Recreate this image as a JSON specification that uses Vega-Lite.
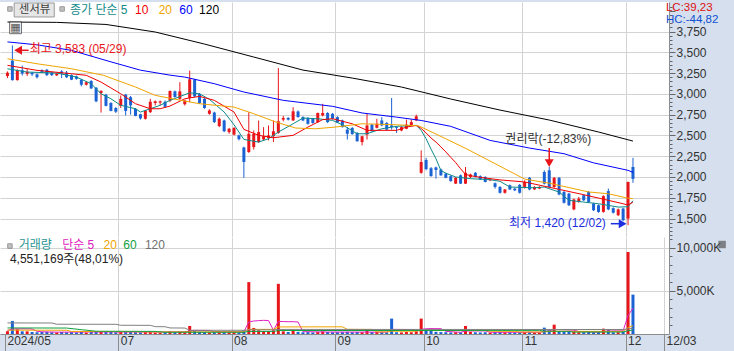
{
"$schema": "https://vega.github.io/schema/vega-lite/v6.json",
"padding": 0,
"background": "#d5dfed",
"spacing": 0,
"bounds": "flush",
"resolve": {"scale": {"color": "independent"}},
"config": {
  "view": {"stroke": null, "fill": "#ffffff"},
  "font": "Liberation Sans, Noto Sans CJK KR, sans-serif",
  "text": {"font": "Liberation Sans, Noto Sans CJK KR, sans-serif", "fontSize": 12},
  "axis": {"labelFont": "Liberation Sans", "labelFontSize": 12, "labelColor": "#333333", "domainColor": "#8c8c8c", "tickColor": "#666666", "gridColor": "#d3d3d3", "labelFlush": false, "labelOverlap": false}
},
"datasets": {
"ohlc": [
{"d":"05-28","i":0,"o":3215,"h":3270,"l":3190,"c":3255,"v":310},
{"d":"05-29","i":1,"o":3400,"h":3583,"l":3160,"c":3165,"v":1510},
{"d":"05-30","i":2,"o":3165,"h":3295,"l":3160,"c":3285,"v":540},
{"d":"05-31","i":3,"o":3285,"h":3340,"l":3220,"c":3245,"v":310},
{"d":"06-03","i":4,"o":3240,"h":3300,"l":3215,"c":3265,"v":310},
{"d":"06-04","i":5,"o":3255,"h":3265,"l":3215,"c":3235,"v":220},
{"d":"06-05","i":6,"o":3235,"h":3245,"l":3185,"c":3200,"v":200},
{"d":"06-07","i":7,"o":3285,"h":3295,"l":3250,"c":3265,"v":230},
{"d":"06-10","i":8,"o":3290,"h":3300,"l":3215,"c":3225,"v":250},
{"d":"06-11","i":9,"o":3255,"h":3265,"l":3215,"c":3225,"v":200},
{"d":"06-12","i":10,"o":3222,"h":3250,"l":3215,"c":3242,"v":180},
{"d":"06-13","i":11,"o":3270,"h":3285,"l":3190,"c":3245,"v":230},
{"d":"06-14","i":12,"o":3255,"h":3275,"l":3190,"c":3200,"v":200},
{"d":"06-17","i":13,"o":3225,"h":3235,"l":3165,"c":3170,"v":210},
{"d":"06-18","i":14,"o":3210,"h":3220,"l":3170,"c":3180,"v":180},
{"d":"06-19","i":15,"o":3170,"h":3180,"l":3090,"c":3110,"v":230},
{"d":"06-20","i":16,"o":3110,"h":3150,"l":3100,"c":3140,"v":170},
{"d":"06-21","i":17,"o":3155,"h":3165,"l":3060,"c":3065,"v":220},
{"d":"06-24","i":18,"o":3075,"h":3080,"l":2900,"c":2910,"v":330},
{"d":"06-25","i":19,"o":3010,"h":3040,"l":2775,"c":3037,"v":300},
{"d":"06-26","i":20,"o":2990,"h":3000,"l":2850,"c":2855,"v":250},
{"d":"06-27","i":21,"o":2890,"h":2900,"l":2790,"c":2795,"v":230},
{"d":"06-28","i":22,"o":2830,"h":2840,"l":2770,"c":2785,"v":200},
{"d":"07-01","i":23,"o":2855,"h":2980,"l":2830,"c":2940,"v":260},
{"d":"07-02","i":24,"o":2990,"h":3000,"l":2740,"c":2795,"v":300},
{"d":"07-03","i":25,"o":2960,"h":2975,"l":2750,"c":2862,"v":250},
{"d":"07-04","i":26,"o":2820,"h":2830,"l":2730,"c":2735,"v":220},
{"d":"07-05","i":27,"o":2755,"h":2760,"l":2690,"c":2705,"v":200},
{"d":"07-08","i":28,"o":2700,"h":2805,"l":2690,"c":2800,"v":230},
{"d":"07-09","i":29,"o":2780,"h":2940,"l":2770,"c":2905,"v":280},
{"d":"07-10","i":30,"o":2890,"h":2920,"l":2860,"c":2910,"v":170},
{"d":"07-11","i":31,"o":2895,"h":2920,"l":2860,"c":2910,"v":160},
{"d":"07-12","i":32,"o":2905,"h":2920,"l":2830,"c":2845,"v":190},
{"d":"07-15","i":33,"o":2920,"h":3040,"l":2900,"c":3035,"v":300},
{"d":"07-16","i":34,"o":3030,"h":3040,"l":2955,"c":2962,"v":220},
{"d":"07-17","i":35,"o":2940,"h":3140,"l":2930,"c":3030,"v":280},
{"d":"07-18","i":36,"o":2875,"h":2930,"l":2860,"c":2920,"v":200},
{"d":"07-19","i":37,"o":2950,"h":3280,"l":2900,"c":3175,"v":930},
{"d":"07-22","i":38,"o":3170,"h":3180,"l":2960,"c":2970,"v":400},
{"d":"07-23","i":39,"o":3000,"h":3010,"l":2880,"c":2890,"v":250},
{"d":"07-24","i":40,"o":2940,"h":2950,"l":2820,"c":2830,"v":230},
{"d":"07-25","i":41,"o":2760,"h":2815,"l":2750,"c":2800,"v":180},
{"d":"07-26","i":42,"o":2775,"h":2785,"l":2650,"c":2660,"v":220},
{"d":"07-29","i":43,"o":2612,"h":2715,"l":2600,"c":2700,"v":200},
{"d":"07-30","i":44,"o":2680,"h":2690,"l":2540,"c":2550,"v":220},
{"d":"07-31","i":45,"o":2540,"h":2590,"l":2520,"c":2580,"v":170},
{"d":"08-01","i":46,"o":2510,"h":2600,"l":2500,"c":2590,"v":200},
{"d":"08-02","i":47,"o":2500,"h":2510,"l":2440,"c":2455,"v":180},
{"d":"08-05","i":48,"o":2355,"h":2365,"l":1990,"c":2180,"v":420},
{"d":"08-06","i":49,"o":2300,"h":2780,"l":2290,"c":2520,"v":6000},
{"d":"08-07","i":50,"o":2360,"h":2560,"l":2330,"c":2520,"v":700},
{"d":"08-08","i":51,"o":2420,"h":2680,"l":2410,"c":2540,"v":430},
{"d":"08-09","i":52,"o":2452,"h":2600,"l":2440,"c":2490,"v":350},
{"d":"08-12","i":53,"o":2470,"h":2620,"l":2440,"c":2500,"v":300},
{"d":"08-13","i":54,"o":2490,"h":2680,"l":2420,"c":2550,"v":430},
{"d":"08-14","i":55,"o":2530,"h":3310,"l":2520,"c":2670,"v":5800},
{"d":"08-16","i":56,"o":2690,"h":2735,"l":2670,"c":2710,"v":310},
{"d":"08-19","i":57,"o":2710,"h":2720,"l":2680,"c":2690,"v":230},
{"d":"08-20","i":58,"o":2680,"h":2840,"l":2675,"c":2790,"v":350},
{"d":"08-21","i":59,"o":2788,"h":2800,"l":2715,"c":2720,"v":250},
{"d":"08-22","i":60,"o":2720,"h":2730,"l":2670,"c":2680,"v":200},
{"d":"08-23","i":61,"o":2710,"h":2720,"l":2630,"c":2640,"v":220},
{"d":"08-26","i":62,"o":2700,"h":2710,"l":2640,"c":2650,"v":180},
{"d":"08-27","i":63,"o":2660,"h":2775,"l":2650,"c":2770,"v":230},
{"d":"08-28","i":64,"o":2740,"h":2880,"l":2730,"c":2770,"v":300},
{"d":"08-29","i":65,"o":2770,"h":2780,"l":2650,"c":2660,"v":230},
{"d":"08-30","i":66,"o":2760,"h":2770,"l":2690,"c":2700,"v":200},
{"d":"09-02","i":67,"o":2720,"h":2730,"l":2650,"c":2655,"v":210},
{"d":"09-03","i":68,"o":2680,"h":2690,"l":2595,"c":2600,"v":220},
{"d":"09-04","i":69,"o":2570,"h":2600,"l":2450,"c":2520,"v":250},
{"d":"09-05","i":70,"o":2590,"h":2600,"l":2510,"c":2515,"v":200},
{"d":"09-06","i":71,"o":2530,"h":2540,"l":2425,"c":2430,"v":230},
{"d":"09-09","i":72,"o":2420,"h":2495,"l":2380,"c":2490,"v":210},
{"d":"09-10","i":73,"o":2510,"h":2760,"l":2450,"c":2620,"v":400},
{"d":"09-11","i":74,"o":2630,"h":2640,"l":2545,"c":2550,"v":220},
{"d":"09-12","i":75,"o":2592,"h":2700,"l":2585,"c":2640,"v":230},
{"d":"09-13","i":76,"o":2680,"h":2720,"l":2610,"c":2620,"v":210},
{"d":"09-19","i":77,"o":2650,"h":2660,"l":2560,"c":2570,"v":200},
{"d":"09-20","i":78,"o":2620,"h":2950,"l":2570,"c":2600,"v":1780},
{"d":"09-23","i":79,"o":2600,"h":2610,"l":2530,"c":2590,"v":200},
{"d":"09-24","i":80,"o":2560,"h":2610,"l":2550,"c":2600,"v":180},
{"d":"09-25","i":81,"o":2580,"h":2690,"l":2575,"c":2630,"v":230},
{"d":"09-26","i":82,"o":2620,"h":2690,"l":2615,"c":2660,"v":200},
{"d":"09-27","i":83,"o":2680,"h":2750,"l":2675,"c":2730,"v":300},
{"d":"09-30","i":84,"o":2050,"h":2320,"l":2040,"c":2180,"v":1780},
{"d":"10-02","i":85,"o":2205,"h":2230,"l":2080,"c":2095,"v":500},
{"d":"10-04","i":86,"o":2105,"h":2120,"l":2005,"c":2010,"v":350},
{"d":"10-07","i":87,"o":2115,"h":2125,"l":1980,"c":2085,"v":250},
{"d":"10-08","i":88,"o":2090,"h":2100,"l":2015,"c":2020,"v":220},
{"d":"10-10","i":89,"o":2040,"h":2050,"l":1985,"c":1990,"v":200},
{"d":"10-11","i":90,"o":2010,"h":2020,"l":1945,"c":1950,"v":180},
{"d":"10-14","i":91,"o":1920,"h":2000,"l":1915,"c":1990,"v":200},
{"d":"10-15","i":92,"o":2020,"h":2030,"l":1915,"c":1920,"v":200},
{"d":"10-16","i":93,"o":1920,"h":2120,"l":1915,"c":2050,"v":930},
{"d":"10-17","i":94,"o":2000,"h":2040,"l":1985,"c":2030,"v":250},
{"d":"10-18","i":95,"o":2050,"h":2060,"l":1995,"c":2000,"v":200},
{"d":"10-21","i":96,"o":2010,"h":2020,"l":1965,"c":1970,"v":180},
{"d":"10-22","i":97,"o":2000,"h":2010,"l":1935,"c":1940,"v":200},
{"d":"10-23","i":98,"o":1960,"h":1980,"l":1950,"c":1970,"v":160},
{"d":"10-24","i":99,"o":1925,"h":1935,"l":1860,"c":1880,"v":220},
{"d":"10-25","i":100,"o":1880,"h":1890,"l":1800,"c":1810,"v":230},
{"d":"10-28","i":101,"o":1810,"h":1855,"l":1800,"c":1850,"v":180},
{"d":"10-29","i":102,"o":1900,"h":1910,"l":1845,"c":1850,"v":190},
{"d":"10-30","i":103,"o":1860,"h":1870,"l":1830,"c":1840,"v":170},
{"d":"10-31","i":104,"o":1905,"h":1915,"l":1800,"c":1810,"v":210},
{"d":"11-01","i":105,"o":1880,"h":1960,"l":1860,"c":1940,"v":230},
{"d":"11-04","i":106,"o":1990,"h":2000,"l":1840,"c":1850,"v":250},
{"d":"11-05","i":107,"o":1850,"h":1890,"l":1845,"c":1880,"v":160},
{"d":"11-06","i":108,"o":1860,"h":1890,"l":1855,"c":1880,"v":170},
{"d":"11-07","i":109,"o":2060,"h":2080,"l":1910,"c":1920,"v":735},
{"d":"11-08","i":110,"o":2080,"h":2120,"l":1870,"c":1880,"v":400},
{"d":"11-11","i":111,"o":1880,"h":2000,"l":1870,"c":1990,"v":1080},
{"d":"11-12","i":112,"o":1990,"h":2000,"l":1780,"c":1790,"v":350},
{"d":"11-13","i":113,"o":1820,"h":1830,"l":1680,"c":1690,"v":250},
{"d":"11-14","i":114,"o":1800,"h":1810,"l":1650,"c":1660,"v":250},
{"d":"11-15","i":115,"o":1610,"h":1740,"l":1600,"c":1730,"v":300},
{"d":"11-18","i":116,"o":1700,"h":1760,"l":1690,"c":1740,"v":200},
{"d":"11-19","i":117,"o":1780,"h":1790,"l":1710,"c":1720,"v":200},
{"d":"11-20","i":118,"o":1820,"h":1830,"l":1690,"c":1700,"v":230},
{"d":"11-21","i":119,"o":1680,"h":1690,"l":1590,"c":1600,"v":200},
{"d":"11-22","i":120,"o":1660,"h":1670,"l":1570,"c":1580,"v":210},
{"d":"11-25","i":121,"o":1580,"h":1780,"l":1570,"c":1770,"v":620},
{"d":"11-26","i":122,"o":1830,"h":1860,"l":1600,"c":1610,"v":500},
{"d":"11-27","i":123,"o":1625,"h":1635,"l":1560,"c":1570,"v":200},
{"d":"11-28","i":124,"o":1540,"h":1620,"l":1530,"c":1610,"v":200},
{"d":"11-29","i":125,"o":1620,"h":1630,"l":1470,"c":1480,"v":300},
{"d":"12-02","i":126,"o":1500,"h":1945,"l":1420,"c":1940,"v":9480},
{"d":"12-03","i":127,"o":2120,"h":2230,"l":1930,"c":1977,"v":4551}
],
"ma": [
{"s":"5","i":0,"p":3302},{"s":"5","i":4,"p":3262},{"s":"5","i":10,"p":3250},{"s":"5","i":14,"p":3202},{"s":"5","i":17,"p":3122},{"s":"5","i":19,"p":3001},{"s":"5","i":21,"p":2941},{"s":"5","i":23,"p":2862},{"s":"5","i":26,"p":2821},{"s":"5","i":27,"p":2781},{"s":"5","i":29,"p":2821},{"s":"5","i":31,"p":2862},{"s":"5","i":33,"p":2922},{"s":"5","i":37,"p":3013},{"s":"5","i":39,"p":3000},{"s":"5","i":41,"p":2934},{"s":"5","i":44,"p":2781},{"s":"5","i":46,"p":2628},{"s":"5","i":48,"p":2452},{"s":"5","i":51,"p":2420},{"s":"5","i":53,"p":2460},{"s":"5","i":55,"p":2540},{"s":"5","i":58,"p":2640},{"s":"5","i":60,"p":2709},{"s":"5","i":63,"p":2700},{"s":"5","i":66,"p":2681},{"s":"5","i":68,"p":2628},{"s":"5","i":71,"p":2520},{"s":"5","i":73,"p":2520},{"s":"5","i":76,"p":2580},{"s":"5","i":79,"p":2609},{"s":"5","i":83,"p":2621},{"s":"5","i":84,"p":2560},{"s":"5","i":85,"p":2460},{"s":"5","i":86,"p":2335},{"s":"5","i":87,"p":2220},{"s":"5","i":88,"p":2078},{"s":"5","i":89,"p":2046},{"s":"5","i":91,"p":2000},{"s":"5","i":94,"p":1980},{"s":"5","i":98,"p":1967},{"s":"5","i":100,"p":1948},{"s":"5","i":102,"p":1879},{"s":"5","i":107,"p":1870},{"s":"5","i":109,"p":1879},{"s":"5","i":112,"p":1819},{"s":"5","i":114,"p":1719},{"s":"5","i":117,"p":1698},{"s":"5","i":120,"p":1678},{"s":"5","i":124,"p":1638},{"s":"5","i":126,"p":1642},{"s":"5","i":127,"p":1715},
{"s":"10","i":0,"p":3343},{"s":"10","i":6,"p":3283},{"s":"10","i":13,"p":3242},{"s":"10","i":16,"p":3223},{"s":"10","i":19,"p":3142},{"s":"10","i":23,"p":3001},{"s":"10","i":26,"p":2881},{"s":"10","i":29,"p":2821},{"s":"10","i":31,"p":2821},{"s":"10","i":33,"p":2853},{"s":"10","i":36,"p":2941},{"s":"10","i":39,"p":2970},{"s":"10","i":42,"p":2922},{"s":"10","i":46,"p":2781},{"s":"10","i":48,"p":2573},{"s":"10","i":51,"p":2501},{"s":"10","i":54,"p":2472},{"s":"10","i":58,"p":2501},{"s":"10","i":61,"p":2600},{"s":"10","i":64,"p":2690},{"s":"10","i":66,"p":2701},{"s":"10","i":70,"p":2640},{"s":"10","i":73,"p":2561},{"s":"10","i":79,"p":2561},{"s":"10","i":81,"p":2600},{"s":"10","i":83,"p":2621},{"s":"10","i":84,"p":2584},{"s":"10","i":85,"p":2530},{"s":"10","i":86,"p":2469},{"s":"10","i":87,"p":2420},{"s":"10","i":88,"p":2362},{"s":"10","i":89,"p":2302},{"s":"10","i":90,"p":2237},{"s":"10","i":91,"p":2173},{"s":"10","i":92,"p":2099},{"s":"10","i":93,"p":2031},{"s":"10","i":94,"p":2016},{"s":"10","i":96,"p":1995},{"s":"10","i":100,"p":1965},{"s":"10","i":105,"p":1940},{"s":"10","i":112,"p":1851},{"s":"10","i":117,"p":1787},{"s":"10","i":122,"p":1719},{"s":"10","i":125,"p":1678},{"s":"10","i":126,"p":1662},{"s":"10","i":127,"p":1698},
{"s":"20","i":0,"p":3422},{"s":"20","i":6,"p":3362},{"s":"20","i":13,"p":3302},{"s":"20","i":19.5,"p":3223},{"s":"20","i":26,"p":3082},{"s":"20","i":30,"p":2982},{"s":"20","i":33.5,"p":2941},{"s":"20","i":39,"p":2881},{"s":"20","i":46,"p":2841},{"s":"20","i":50,"p":2761},{"s":"20","i":54.5,"p":2661},{"s":"20","i":58.5,"p":2589},{"s":"20","i":62.5,"p":2580},{"s":"20","i":66.5,"p":2600},{"s":"20","i":72,"p":2640},{"s":"20","i":79,"p":2628},{"s":"20","i":83.5,"p":2615},{"s":"20","i":89,"p":2460},{"s":"20","i":93.5,"p":2330},{"s":"20","i":99,"p":2160},{"s":"20","i":105,"p":1975},{"s":"20","i":110,"p":1925},{"s":"20","i":118,"p":1820},{"s":"20","i":122,"p":1798},{"s":"20","i":126,"p":1745},{"s":"20","i":127,"p":1740},
{"s":"60","i":0,"p":3625},{"s":"60","i":6,"p":3590},{"s":"60","i":13,"p":3523},{"s":"60","i":21,"p":3385},{"s":"60","i":27,"p":3285},{"s":"60","i":33,"p":3225},{"s":"60","i":36,"p":3202},{"s":"60","i":42,"p":3122},{"s":"60","i":48,"p":3022},{"s":"60","i":56,"p":2922},{"s":"60","i":66,"p":2850},{"s":"60","i":72,"p":2770},{"s":"60","i":79,"p":2720},{"s":"60","i":84,"p":2680},{"s":"60","i":90,"p":2609},{"s":"60","i":98,"p":2440},{"s":"60","i":106,"p":2348},{"s":"60","i":113,"p":2280},{"s":"60","i":119,"p":2170},{"s":"60","i":126,"p":2080},{"s":"60","i":127,"p":2055},
{"s":"120","i":0,"p":3864},{"s":"120","i":10,"p":3860},{"s":"120","i":20,"p":3835},{"s":"120","i":30,"p":3744},{"s":"120","i":40,"p":3599},{"s":"120","i":50,"p":3443},{"s":"120","i":60,"p":3286},{"s":"120","i":70,"p":3190},{"s":"120","i":80,"p":3082},{"s":"120","i":90,"p":2938},{"s":"120","i":100,"p":2805},{"s":"120","i":110,"p":2685},{"s":"120","i":120,"p":2541},{"s":"120","i":127,"p":2432}
],
"vma": [
{"s":"5","i":0,"v":400},{"s":"5","i":1,"v":590},{"s":"5","i":4,"v":596},{"s":"5","i":5,"v":578},{"s":"5","i":6,"v":316},{"s":"5","i":7,"v":254},{"s":"5","i":10,"v":216},{"s":"5","i":20,"v":240},{"s":"5","i":30,"v":230},{"s":"5","i":36,"v":240},{"s":"5","i":37,"v":360},{"s":"5","i":38,"v":420},{"s":"5","i":41,"v":410},{"s":"5","i":42,"v":270},{"s":"5","i":48,"v":240},{"s":"5","i":49,"v":1394},{"s":"5","i":50,"v":1500},{"s":"5","i":51,"v":1546},{"s":"5","i":52,"v":1580},{"s":"5","i":53,"v":1556},{"s":"5","i":54,"v":442},{"s":"5","i":55,"v":1462},{"s":"5","i":56,"v":1438},{"s":"5","i":57,"v":1422},{"s":"5","i":58,"v":1424},{"s":"5","i":59,"v":1388},{"s":"5","i":60,"v":268},{"s":"5","i":65,"v":230},{"s":"5","i":77,"v":214},{"s":"5","i":78,"v":528},{"s":"5","i":82,"v":520},{"s":"5","i":83,"v":292},{"s":"5","i":84,"v":538},{"s":"5","i":85,"v":602},{"s":"5","i":86,"v":626},{"s":"5","i":87,"v":616},{"s":"5","i":88,"v":620},{"s":"5","i":89,"v":304},{"s":"5","i":92,"v":196},{"s":"5","i":93,"v":346},{"s":"5","i":97,"v":356},{"s":"5","i":98,"v":198},{"s":"5","i":105,"v":204},{"s":"5","i":108,"v":196},{"s":"5","i":109,"v":300},{"s":"5","i":110,"v":370},{"s":"5","i":111,"v":530},{"s":"5","i":115,"v":440},{"s":"5","i":116,"v":290},{"s":"5","i":120,"v":210},{"s":"5","i":121,"v":292},{"s":"5","i":122,"v":350},{"s":"5","i":125,"v":364},{"s":"5","i":126,"v":2136},{"s":"5","i":127,"v":2986},
{"s":"20","i":0,"v":450},{"s":"20","i":12,"v":430},{"s":"20","i":13,"v":300},{"s":"20","i":22,"v":280},{"s":"20","i":30,"v":240},{"s":"20","i":48,"v":250},{"s":"20","i":49,"v":535},{"s":"20","i":54,"v":540},{"s":"20","i":55,"v":820},{"s":"20","i":68,"v":830},{"s":"20","i":69,"v":540},{"s":"20","i":74,"v":530},{"s":"20","i":75,"v":250},{"s":"20","i":77,"v":240},{"s":"20","i":78,"v":320},{"s":"20","i":83,"v":320},{"s":"20","i":84,"v":400},{"s":"20","i":97,"v":400},{"s":"20","i":98,"v":320},{"s":"20","i":103,"v":310},{"s":"20","i":104,"v":240},{"s":"20","i":108,"v":230},{"s":"20","i":109,"v":260},{"s":"20","i":111,"v":310},{"s":"20","i":125,"v":300},{"s":"20","i":126,"v":740},{"s":"20","i":127,"v":960},
{"s":"60","i":0,"v":700},{"s":"60","i":12,"v":690},{"s":"60","i":15,"v":500},{"s":"60","i":18,"v":320},{"s":"60","i":30,"v":300},{"s":"60","i":32,"v":200},{"s":"60","i":48,"v":200},{"s":"60","i":49,"v":300},{"s":"60","i":54,"v":300},{"s":"60","i":55,"v":400},{"s":"60","i":108,"v":420},{"s":"60","i":109,"v":330},{"s":"60","i":114,"v":300},{"s":"60","i":115,"v":220},{"s":"60","i":125,"v":230},{"s":"60","i":126,"v":380},{"s":"60","i":127,"v":450},
{"s":"120","i":0,"v":1280},{"s":"120","i":9,"v":1270},{"s":"120","i":10,"v":1130},{"s":"120","i":22,"v":1120},{"s":"120","i":23,"v":1010},{"s":"120","i":29,"v":1000},{"s":"120","i":30,"v":850},{"s":"120","i":32,"v":840},{"s":"120","i":33,"v":700},{"s":"120","i":36,"v":690},{"s":"120","i":37,"v":430},{"s":"120","i":48,"v":430},{"s":"120","i":49,"v":480},{"s":"120","i":54,"v":480},{"s":"120","i":55,"v":530},{"s":"120","i":125,"v":520},{"s":"120","i":126,"v":600},{"s":"120","i":127,"v":640}
]
},
"vconcat": [
{
"width": 669, "height": 235,
"layer": [
{"data": {"name": "ohlc"}, "mark": {"type": "rule", "strokeWidth": 1},
 "encoding": {
  "x": {"field": "i", "type": "quantitative", "title": null, "scale": {"domain": [-0.5, 133.3], "nice": false, "zero": false},
        "axis": {"orient": "bottom", "values": [22.5, 45.5, 66.5, 84.5, 104.5, 125.5], "tickCount": 200, "labels": false, "ticks": false, "domain": true, "grid": true}},
  "y": {"field": "l", "type": "quantitative", "title": null, "scale": {"domain": [1278, 4105], "nice": false, "zero": false},
        "axis": {"orient": "right", "tickCount": 200,
                 "values": [1300,1350,1400,1450,1500,1550,1600,1650,1700,1750,1800,1850,1900,1950,2000,2050,2100,2150,2200,2250,2300,2350,2400,2450,2500,2550,2600,2650,2700,2750,2800,2850,2900,2950,3000,3050,3100,3150,3200,3250,3300,3350,3400,3450,3500,3550,3600,3650,3700,3750,3800,3850,3900,3950,4000,4050],
                 "labelExpr": "datum.value % 250 === 0 && datum.value < 3800 ? format(datum.value, ',') : ''",
                 "labelOverlap": false,
                 "tickSize": {"condition": {"test": "datum.value % 250 === 0", "value": 6}, "value": 3},
                 "grid": true,
                 "gridOpacity": {"condition": {"test": "datum.value % 250 === 0 && datum.value < 3800", "value": 1}, "value": 0},
                 "labelPadding": 1, "labelBaseline": "middle", "minExtent": 65, "maxExtent": 65}},
  "y2": {"field": "h"},
  "color": {"condition": {"test": "datum.c >= datum.o", "value": "#e8161b"}, "value": "#1b62d4"}
 }},
{"data": {"name": "ohlc"}, "mark": {"type": "bar", "width": 3, "orient": "vertical"},
 "encoding": {
  "x": {"field": "i", "type": "quantitative", "title": null},
  "y": {"field": "o", "type": "quantitative", "title": null},
  "y2": {"field": "c"},
  "color": {"condition": {"test": "datum.c >= datum.o", "value": "#e8161b"}, "value": "#1b62d4"}
 }},
{"data": {"name": "ma"}, "mark": {"type": "line", "strokeWidth": 1},
 "encoding": {
  "x": {"field": "i", "type": "quantitative", "title": null},
  "y": {"field": "p", "type": "quantitative", "title": null},
  "color": {"field": "s", "type": "nominal", "legend": null, "scale": {"domain": ["5","10","20","60","120"], "range": ["#0b8a8a","#f00000","#f0a400","#0000ff","#000000"]}}
 }},
{"data": {"values": [{"i1": 1.36, "i2": 9.5, "p1": 4093, "p2": 3925}]}, "mark": {"type": "rect", "fill": "#e6e6e6", "stroke": "#9a9a9a", "strokeWidth": 1},
 "encoding": {"x": {"field": "i1", "type": "quantitative", "title": null}, "x2": {"field": "i2"}, "y": {"field": "p1", "type": "quantitative", "title": null}, "y2": {"field": "p2"}}},
{"data": {"values": [{"i": 0.5, "p": 4021}, {"i": 11.1, "p": 4021}]}, "mark": {"type": "point", "shape": "square", "filled": true, "color": "#a8a8a8", "size": 20, "stroke": "#707070", "strokeWidth": 1},
 "encoding": {"x": {"field": "i", "type": "quantitative", "title": null}, "y": {"field": "p", "type": "quantitative", "title": null}}},
{"data": {"values": [{"i": 1.64, "p": 3795}]}, "mark": {"type": "point", "shape": "square", "filled": true, "color": "#eeeeee", "size": 140, "stroke": "#333333", "strokeWidth": 1},
 "encoding": {"x": {"field": "i", "type": "quantitative", "title": null}, "y": {"field": "p", "type": "quantitative", "title": null}}},
{"data": {"values": [{"i": 1.64, "p": 3795, "t": "▦"}]}, "mark": {"type": "text", "align": "center", "baseline": "middle", "color": "#555555", "fontSize": 11, "font": "DejaVu Sans"},
 "encoding": {"x": {"field": "i", "type": "quantitative", "title": null}, "y": {"field": "p", "type": "quantitative", "title": null}, "text": {"field": "t"}}},
{"data": {"values": [{"i": 5.5, "p": 4013, "t": "센서뷰"}]}, "mark": {"type": "text", "align": "center", "baseline": "middle", "color": "#404040", "fontSize": 11.5},
 "encoding": {"x": {"field": "i", "type": "quantitative", "title": null}, "y": {"field": "p", "type": "quantitative", "title": null}, "text": {"field": "t"}}},
{"data": {"values": [{"i": 12.7, "p": 4008, "t": "종가 단순 5"}]}, "mark": {"type": "text", "align": "left", "baseline": "middle", "color": "#138a8a"},
 "encoding": {"x": {"field": "i", "type": "quantitative", "title": null}, "y": {"field": "p", "type": "quantitative", "title": null}, "text": {"field": "t"}}},
{"data": {"values": [{"i": 25.9, "p": 4008, "t": "10"}]}, "mark": {"type": "text", "align": "left", "baseline": "middle", "color": "#f00000"},
 "encoding": {"x": {"field": "i", "type": "quantitative", "title": null}, "y": {"field": "p", "type": "quantitative", "title": null}, "text": {"field": "t"}}},
{"data": {"values": [{"i": 30.7, "p": 4008, "t": "20"}]}, "mark": {"type": "text", "align": "left", "baseline": "middle", "color": "#f0a400"},
 "encoding": {"x": {"field": "i", "type": "quantitative", "title": null}, "y": {"field": "p", "type": "quantitative", "title": null}, "text": {"field": "t"}}},
{"data": {"values": [{"i": 34.9, "p": 4008, "t": "60"}]}, "mark": {"type": "text", "align": "left", "baseline": "middle", "color": "#0000ff"},
 "encoding": {"x": {"field": "i", "type": "quantitative", "title": null}, "y": {"field": "p", "type": "quantitative", "title": null}, "text": {"field": "t"}}},
{"data": {"values": [{"i": 38.9, "p": 4008, "t": "120"}]}, "mark": {"type": "text", "align": "left", "baseline": "middle", "color": "#000000"},
 "encoding": {"x": {"field": "i", "type": "quantitative", "title": null}, "y": {"field": "p", "type": "quantitative", "title": null}, "text": {"field": "t"}}},
{"data": {"values": [{"i": 4.5, "p": 3534, "t": "최고 3,583 (05/29)"}]}, "mark": {"type": "text", "align": "left", "baseline": "middle", "color": "#e8161b"},
 "encoding": {"x": {"field": "i", "type": "quantitative", "title": null}, "y": {"field": "p", "type": "quantitative", "title": null}, "text": {"field": "t"}}},
{"data": {"values": [{"i1": 2.84, "i2": 4.3, "p": 3524}]}, "mark": {"type": "rule", "color": "#e8161b", "strokeWidth": 1.5},
 "encoding": {"x": {"field": "i1", "type": "quantitative", "title": null}, "x2": {"field": "i2"}, "y": {"field": "p", "type": "quantitative", "title": null}}},
{"data": {"values": [{"i": 2.16, "p": 3524}]}, "mark": {"type": "point", "shape": "triangle-left", "filled": true, "color": "#e8161b", "size": 80, "opacity": 1},
 "encoding": {"x": {"field": "i", "type": "quantitative", "title": null}, "y": {"field": "p", "type": "quantitative", "title": null}}},
{"data": {"values": [{"i": 109.8, "p": 2457, "t": "권리락(-12,83%)"}]}, "mark": {"type": "text", "align": "center", "baseline": "middle", "color": "#333333"},
 "encoding": {"x": {"field": "i", "type": "quantitative", "title": null}, "y": {"field": "p", "type": "quantitative", "title": null}, "text": {"field": "t"}}},
{"data": {"values": [{"i": 110, "p1": 2349, "p2": 2204}]}, "mark": {"type": "rule", "color": "#e8161b", "strokeWidth": 1.5},
 "encoding": {"x": {"field": "i", "type": "quantitative", "title": null}, "y": {"field": "p1", "type": "quantitative", "title": null}, "y2": {"field": "p2"}}},
{"data": {"values": [{"i": 110, "p": 2168}]}, "mark": {"type": "point", "shape": "triangle-down", "filled": true, "color": "#e8161b", "size": 80, "opacity": 1},
 "encoding": {"x": {"field": "i", "type": "quantitative", "title": null}, "y": {"field": "p", "type": "quantitative", "title": null}}},
{"data": {"values": [{"i": 121.5, "p": 1446, "t": "최저 1,420 (12/02)"}]}, "mark": {"type": "text", "align": "right", "baseline": "middle", "color": "#1c2fe0"},
 "encoding": {"x": {"field": "i", "type": "quantitative", "title": null}, "y": {"field": "p", "type": "quantitative", "title": null}, "text": {"field": "t"}}},
{"data": {"values": [{"i1": 122.5, "i2": 124.3, "p": 1438}]}, "mark": {"type": "rule", "color": "#1c2fe0", "strokeWidth": 1.5},
 "encoding": {"x": {"field": "i1", "type": "quantitative", "title": null}, "x2": {"field": "i2"}, "y": {"field": "p", "type": "quantitative", "title": null}}},
{"data": {"values": [{"i": 124.9, "p": 1438}]}, "mark": {"type": "point", "shape": "triangle-right", "filled": true, "color": "#1c2fe0", "size": 80, "opacity": 1},
 "encoding": {"x": {"field": "i", "type": "quantitative", "title": null}, "y": {"field": "p", "type": "quantitative", "title": null}}},
{"data": {"values": [{"i": 133.7, "p": 4038, "t": "LC:39,23"}]}, "mark": {"type": "text", "align": "left", "baseline": "middle", "color": "#e01010", "fontSize": 11.5},
 "encoding": {"x": {"field": "i", "type": "quantitative", "title": null}, "y": {"field": "p", "type": "quantitative", "title": null}, "text": {"field": "t"}}},
{"data": {"values": [{"i": 133.7, "p": 3884, "t": "HC:-44,82"}]}, "mark": {"type": "text", "align": "left", "baseline": "middle", "color": "#1050d0", "fontSize": 11.5},
 "encoding": {"x": {"field": "i", "type": "quantitative", "title": null}, "y": {"field": "p", "type": "quantitative", "title": null}, "text": {"field": "t"}}}
]
},
{
"width": 669, "height": 97,
"layer": [
{"data": {"name": "ohlc"}, "mark": {"type": "bar", "width": 3, "orient": "vertical"},
 "encoding": {
  "x": {"field": "i", "type": "quantitative", "title": null, "scale": {"domain": [-0.5, 133.3], "nice": false, "zero": false},
        "axis": {"orient": "bottom", "tickCount": 200, "values": [-0.5, 22.5, 45.5, 66.5, 84.5, 104.5, 125.5, 133.3],
                 "labelExpr": "datum.value < 0 ? '2024/05' : datum.value < 23 ? '07' : datum.value < 46 ? '08' : datum.value < 67 ? '09' : datum.value < 85 ? '10' : datum.value < 105 ? '11' : datum.value < 126 ? '12' : '\u00a0\u00a012/03'",
                 "labelOverlap": false,
                 "tickSize": 18, "tickColor": "#8c8c8c", "labelAlign": "left", "labelBaseline": "top", "labelPadding": -17, "labelOffset": 2,
                 "grid": true, "gridOpacity": {"condition": {"test": "datum.value < 0", "value": 0}, "value": 1}}},
  "y": {"field": "v", "type": "quantitative", "title": null, "scale": {"domain": [0, 11214], "nice": false, "zero": true},
        "axis": {"orient": "right", "tickCount": 200, "values": [1000,2000,3000,4000,5000,6000,7000,8000,9000,10000,11000],
                 "labelExpr": "datum.value % 5000 === 0 ? format(datum.value, ',') + 'K' : ''",
                 "labelOverlap": false,
                 "tickSize": {"condition": {"test": "datum.value % 5000 === 0", "value": 6}, "value": 3},
                 "grid": true, "gridOpacity": {"condition": {"test": "datum.value % 5000 === 0", "value": 1}, "value": 0},
                 "labelPadding": 1, "labelBaseline": "middle", "minExtent": 65, "maxExtent": 65}},
  "color": {"condition": {"test": "datum.c >= datum.o", "value": "#e8161b"}, "value": "#1b62d4"}
 }},
{"data": {"name": "vma"}, "mark": {"type": "line", "strokeWidth": 1},
 "encoding": {
  "x": {"field": "i", "type": "quantitative", "title": null},
  "y": {"field": "v", "type": "quantitative", "title": null},
  "color": {"field": "s", "type": "nominal", "legend": null, "scale": {"domain": ["5","20","60","120"], "range": ["#e020c0","#f0a400","#10a040","#808080"]}}
 }},
{"data": {"values": [{"i": 0.5, "v": 10173}]}, "mark": {"type": "point", "shape": "square", "filled": true, "color": "#a8a8a8", "size": 20, "stroke": "#707070", "strokeWidth": 1},
 "encoding": {"x": {"field": "i", "type": "quantitative", "title": null}, "y": {"field": "v", "type": "quantitative", "title": null}}},
{"data": {"values": [{"i": 145.1, "v": 10346}]}, "mark": {"type": "point", "shape": "square", "filled": true, "color": "#555555", "size": 55},
 "encoding": {"x": {"field": "i", "type": "quantitative", "title": null}, "y": {"field": "v", "type": "quantitative", "title": null}}},
{"data": {"values": [{"i": 2.3, "v": 10288, "t": "거래량"}]}, "mark": {"type": "text", "align": "left", "baseline": "middle", "color": "#2a9595"},
 "encoding": {"x": {"field": "i", "type": "quantitative", "title": null}, "y": {"field": "v", "type": "quantitative", "title": null}, "text": {"field": "t"}}},
{"data": {"values": [{"i": 11.1, "v": 10288, "t": "단순 5"}]}, "mark": {"type": "text", "align": "left", "baseline": "middle", "color": "#e020c0"},
 "encoding": {"x": {"field": "i", "type": "quantitative", "title": null}, "y": {"field": "v", "type": "quantitative", "title": null}, "text": {"field": "t"}}},
{"data": {"values": [{"i": 19.5, "v": 10288, "t": "20"}]}, "mark": {"type": "text", "align": "left", "baseline": "middle", "color": "#f0a400"},
 "encoding": {"x": {"field": "i", "type": "quantitative", "title": null}, "y": {"field": "v", "type": "quantitative", "title": null}, "text": {"field": "t"}}},
{"data": {"values": [{"i": 23.5, "v": 10288, "t": "60"}]}, "mark": {"type": "text", "align": "left", "baseline": "middle", "color": "#10a040"},
 "encoding": {"x": {"field": "i", "type": "quantitative", "title": null}, "y": {"field": "v", "type": "quantitative", "title": null}, "text": {"field": "t"}}},
{"data": {"values": [{"i": 27.9, "v": 10288, "t": "120"}]}, "mark": {"type": "text", "align": "left", "baseline": "middle", "color": "#707070"},
 "encoding": {"x": {"field": "i", "type": "quantitative", "title": null}, "y": {"field": "v", "type": "quantitative", "title": null}, "text": {"field": "t"}}},
{"data": {"values": [{"i": 0.5, "v": 8670, "t": "4,551,169주(48,01%)"}]}, "mark": {"type": "text", "align": "left", "baseline": "middle", "color": "#222222"},
 "encoding": {"x": {"field": "i", "type": "quantitative", "title": null}, "y": {"field": "v", "type": "quantitative", "title": null}, "text": {"field": "t"}}}
]
}
]
}
